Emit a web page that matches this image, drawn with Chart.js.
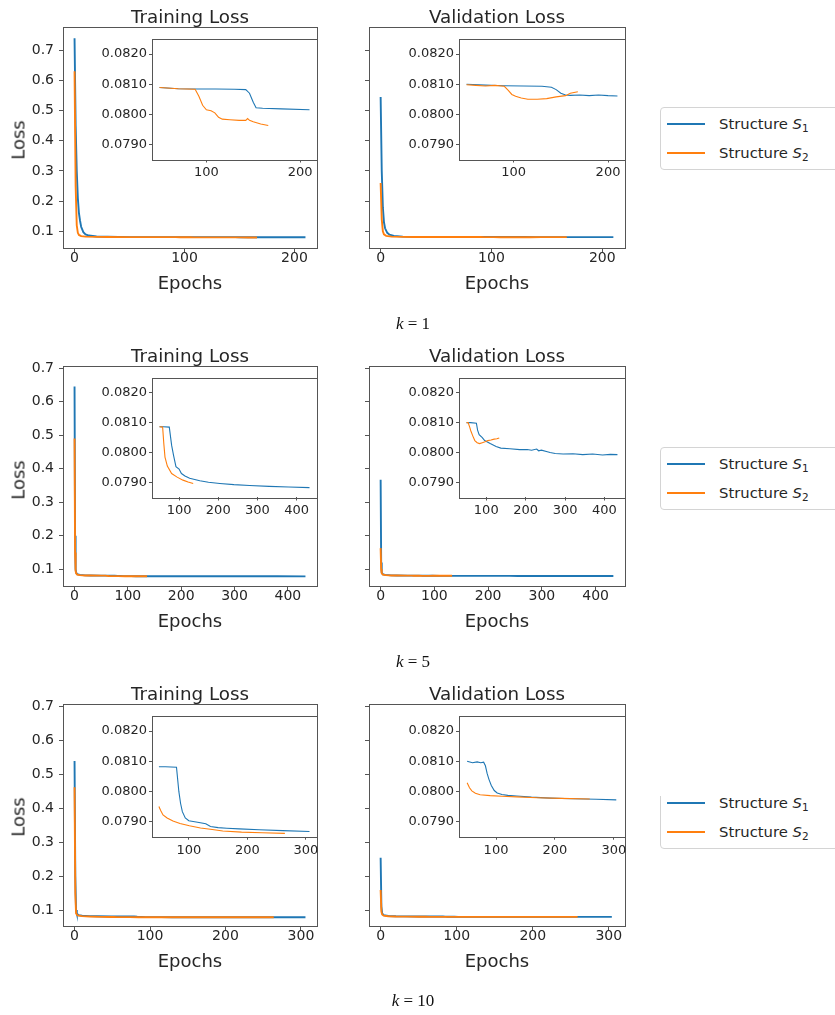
<!DOCTYPE html>
<html>
<head>
<meta charset="utf-8">
<script src="https://cdn.jsdelivr.net/npm/chart.js@4.4.0/dist/chart.umd.min.js"></script>
<style>
  html, body { margin: 0; padding: 0; width: 835px; height: 1015px; overflow: hidden; background: #fff; }
  body { position: relative; font-family: 'DejaVu Sans', sans-serif; color: #262626; }
  canvas { position: absolute; left: 0; top: 0; pointer-events: none; }
  .lbl { position: absolute; transform: translate(-50%, -50%); white-space: nowrap; }
  .title { font-size: 18.3px; }
  .axlabel { font-size: 18px; }
  .ylab { transform: translate(-50%, -50%) rotate(-90deg); }
  .klab { font-family: 'Liberation Serif', serif; font-size: 17px; color: #111; }
  .clip { position: absolute; overflow: hidden; }
  .legend { position: absolute; left: 0; width: 200px; height: 61px; background: #fff; border: 1px solid #d4d4d4; border-radius: 4px; font-size: 14.8px; }
  .legend .item { position: absolute; left: 0; height: 20px; width: 200px; }
  .legend .sw { position: absolute; left: 6px; top: 9px; width: 38px; height: 2px; }
  .legend .tx { position: absolute; left: 58px; top: 0; line-height: 20px; }
  .legend sub { font-size: 10.5px; vertical-align: -3px; font-style: normal; }
</style>
</head>
<body>
<script>
// ---- data (epoch, loss) ----
// k = 1
const k1TrainS1Epochs = [0, 1, 2, 3, 4, 5, 6, 8, 10, 13, 20, 30, 50, 70, 90, 110, 130, 142, 146, 150, 153, 160, 180, 210];
const k1TrainS1Loss = [0.74, 0.45, 0.30, 0.21, 0.16, 0.135, 0.115, 0.097, 0.090, 0.086, 0.083, 0.0818, 0.08089, 0.08085, 0.08084, 0.08084, 0.08083, 0.08082, 0.08070, 0.08040, 0.08022, 0.08020, 0.08018, 0.08015];
const k1TrainS2Epochs = [0, 1, 2, 3, 4, 6, 10, 20, 30, 50, 70, 88, 92, 96, 100, 105, 109, 113, 117, 125, 135, 142, 144, 146, 150, 158, 166];
const k1TrainS2Loss = [0.63, 0.25, 0.12, 0.095, 0.088, 0.084, 0.0825, 0.0815, 0.0811, 0.08089, 0.08085, 0.08083, 0.08060, 0.08030, 0.08015, 0.08012, 0.08005, 0.07990, 0.07984, 0.07982, 0.07980, 0.07980, 0.07986, 0.07980, 0.07975, 0.07968, 0.07963];
const k1ValS1Epochs = [0, 1, 2, 3, 4, 6, 8, 12, 20, 30, 50, 70, 90, 110, 130, 140, 145, 150, 155, 160, 170, 180, 190, 200, 210];
const k1ValS1Loss = [0.545, 0.30, 0.18, 0.13, 0.11, 0.095, 0.089, 0.085, 0.0825, 0.0815, 0.0810, 0.08097, 0.08095, 0.08094, 0.08093, 0.08090, 0.08082, 0.08070, 0.08064, 0.08063, 0.08064, 0.08062, 0.08064, 0.08062, 0.08061];
const k1ValS2Epochs = [0, 1, 2, 3, 5, 10, 20, 30, 50, 60, 70, 80, 90, 94, 98, 102, 108, 115, 125, 135, 145, 155, 160, 168];
const k1ValS2Loss = [0.26, 0.14, 0.10, 0.09, 0.085, 0.0825, 0.0815, 0.0812, 0.08098, 0.08096, 0.08094, 0.08096, 0.08093, 0.08080, 0.08066, 0.08060, 0.08054, 0.08050, 0.08050, 0.08052, 0.08058, 0.08062, 0.08070, 0.08075];
// k = 5
const k5TrainS1Epochs = [0, 1, 2, 3, 5, 10, 20, 30, 50, 60, 75, 81, 86, 92, 100, 106, 115, 127, 140, 153, 175, 204, 240, 280, 330, 380, 433];
const k5TrainS1Loss = [0.645, 0.20, 0.10, 0.09, 0.085, 0.083, 0.0818, 0.0813, 0.08086, 0.08086, 0.08085, 0.08024, 0.07990, 0.07953, 0.07945, 0.07930, 0.07922, 0.07914, 0.07910, 0.07906, 0.07901, 0.07897, 0.07893, 0.07890, 0.07887, 0.07885, 0.07883];
const k5TrainS2Epochs = [0, 1, 2, 3, 5, 10, 20, 30, 50, 58, 61, 64, 70, 81, 95, 110, 123, 136];
const k5TrainS2Loss = [0.49, 0.15, 0.095, 0.088, 0.084, 0.0825, 0.0815, 0.0811, 0.08086, 0.08085, 0.08030, 0.07985, 0.07955, 0.07930, 0.07918, 0.07908, 0.07902, 0.07897];
const k5ValS1Epochs = [0, 1, 2, 4, 8, 20, 30, 50, 60, 75, 78, 82, 90, 96, 110, 125, 137, 160, 185, 204, 215, 228, 233, 240, 255, 262, 275, 295, 320, 345, 370, 395, 415, 433];
const k5ValS1Loss = [0.367, 0.12, 0.09, 0.085, 0.083, 0.0818, 0.0814, 0.0810, 0.0810, 0.08098, 0.08075, 0.08060, 0.08050, 0.08040, 0.08030, 0.08020, 0.08015, 0.08013, 0.08010, 0.08010, 0.08008, 0.08012, 0.08006, 0.08008, 0.08003, 0.08000, 0.07997, 0.07995, 0.07996, 0.07993, 0.07995, 0.07992, 0.07994, 0.07993];
const k5ValS2Epochs = [0, 1, 2, 4, 10, 20, 30, 50, 54, 58, 61, 66, 71, 77, 83, 90, 97, 104, 112, 120, 127, 133];
const k5ValS2Loss = [0.163, 0.10, 0.088, 0.084, 0.0825, 0.0815, 0.0812, 0.0810, 0.0810, 0.08085, 0.08072, 0.08055, 0.08040, 0.08033, 0.08030, 0.08033, 0.08036, 0.08040, 0.08042, 0.08045, 0.08046, 0.08049];
// k = 10
const k10TrainS1Epochs = [0, 1, 2, 3, 5, 10, 20, 30, 49, 60, 79, 83, 86, 89, 94, 100, 115, 129, 137, 150, 165, 186, 220, 260, 306];
const k10TrainS1Loss = [0.538, 0.20, 0.10, 0.09, 0.085, 0.083, 0.082, 0.0815, 0.08082, 0.08082, 0.08080, 0.08000, 0.07960, 0.07933, 0.07912, 0.07903, 0.07898, 0.07893, 0.07884, 0.07880, 0.07878, 0.07876, 0.07873, 0.07870, 0.07867];
const k10TrainS2Epochs = [0, 1, 2, 4, 10, 20, 35, 49, 52, 56, 63, 73, 85, 101, 120, 140, 158, 190, 225, 264];
const k10TrainS2Loss = [0.461, 0.15, 0.09, 0.084, 0.082, 0.0808, 0.0799, 0.0795, 0.07937, 0.07922, 0.07912, 0.07902, 0.07894, 0.07886, 0.07879, 0.07874, 0.07869, 0.07865, 0.07863, 0.07861];
const k10ValS1Epochs = [0, 1, 2, 4, 10, 20, 30, 51, 60, 68, 74, 79, 82, 85, 88, 92, 97, 102, 110, 120, 135, 160, 192, 230, 270, 304];
const k10ValS1Loss = [0.254, 0.11, 0.09, 0.085, 0.0825, 0.0815, 0.0812, 0.0810, 0.08095, 0.08098, 0.08095, 0.08097, 0.08085, 0.08059, 0.08040, 0.08020, 0.08003, 0.07995, 0.07990, 0.07987, 0.07985, 0.07981, 0.07978, 0.07976, 0.07974, 0.07972];
const k10ValS2Epochs = [0, 1, 2, 4, 10, 20, 35, 51, 55, 59, 65, 73, 90, 110, 135, 170, 210, 259];
const k10ValS2Loss = [0.159, 0.095, 0.087, 0.0835, 0.0815, 0.0808, 0.0805, 0.08029, 0.08012, 0.08002, 0.07994, 0.07989, 0.07986, 0.07984, 0.07982, 0.07979, 0.07977, 0.07975];

// tick labels
const mainYTicks = [0.1, 0.2, 0.3, 0.4, 0.5, 0.6, 0.7];
const insetYTicks = [0.0790, 0.0800, 0.0810, 0.0820];
const k1XTicks = [0, 100, 200];
const k5XTicks = [0, 100, 200, 300, 400];
const k10XTicks = [0, 100, 200, 300];
const k1InsetXTicks = [100, 200];
const k5InsetXTicks = [100, 200, 300, 400];
const k10InsetXTicks = [100, 200, 300];

const panelTitles = ['Training Loss', 'Validation Loss'];
const seriesNames = ['Structure', 'Structure'];
const kValues = ['1', '5', '10'];

// ---- layout ----
const PAGE_W = 835, PAGE_H = 1015;
const blue = '#1f77b4', orange = '#ff7f0e', ink = '#262626', spine = '#555555';
const cols = [{ left: 63, right: 317, insetLeft: 152, cx: 190 }, { left: 369, right: 625, insetLeft: 459, cx: 497 }];

const rows = [
  { top: 27, bottom: 248, insetTop: 39, insetBottom: 159.5, yRange: [0.0447, 0.777], xRange: [-10.5, 220.5], insetX: [42, 218],
    xTicks: k1XTicks, insetXTicks: k1InsetXTicks, titleY: 16, epochsY: 282, lossY: 140, kY: 324, legendTop: 107,
    data: [[[k1TrainS1Epochs, k1TrainS1Loss], [k1TrainS2Epochs, k1TrainS2Loss]], [[k1ValS1Epochs, k1ValS1Loss], [k1ValS2Epochs, k1ValS2Loss]]] },
  { top: 366, bottom: 586, insetTop: 377.7, insetBottom: 497.5, yRange: [0.05, 0.706], xRange: [-21.65, 454.65], insetX: [30.85, 452.15],
    xTicks: k5XTicks, insetXTicks: k5InsetXTicks, titleY: 355, epochsY: 620, lossY: 480, kY: 662, legendTop: 447,
    data: [[[k5TrainS1Epochs, k5TrainS1Loss], [k5TrainS2Epochs, k5TrainS2Loss]], [[k5ValS1Epochs, k5ValS1Loss], [k5ValS2Epochs, k5ValS2Loss]]] },
  { top: 704, bottom: 926, insetTop: 716, insetBottom: 836.7, yRange: [0.053, 0.706], xRange: [-15.3, 321.3], insetX: [37.2, 318.8],
    xTicks: k10XTicks, insetXTicks: k10InsetXTicks, titleY: 693, epochsY: 960, lossY: 817, kY: 1001, legendTop: 786, legendClip: 796,
    data: [[[k10TrainS1Epochs, k10TrainS1Loss], [k10TrainS2Epochs, k10TrainS2Loss]], [[k10ValS1Epochs, k10ValS1Loss], [k10ValS2Epochs, k10ValS2Loss]]] }
];

function points(epochs, loss, from) {
  return epochs.map((x, i) => ({ x: x, y: loss[i] })).filter(p => p.x >= from);
}

const frameBox = {
  id: 'frameBox',
  beforeDraw(chart) {
    const a = chart.chartArea, c = chart.ctx;
    c.save();
    c.fillStyle = '#fff';
    c.fillRect(a.left, a.top, a.right - a.left, a.bottom - a.top);
    c.restore();
  },
  afterDraw(chart) {
    const a = chart.chartArea, c = chart.ctx;
    c.save();
    c.strokeStyle = spine;
    c.lineWidth = 1;
    c.strokeRect(Math.round(a.left) + 0.5, Math.round(a.top) + 0.5, Math.round(a.right - a.left), Math.round(a.bottom - a.top));
    c.restore();
  }
};

function makeAxes(o) {
  const cv = document.createElement('canvas');
  cv.width = PAGE_W;
  cv.height = PAGE_H;
  document.body.appendChild(cv);
  const font = { family: 'DejaVu Sans', size: o.fontSize, lineHeight: 1 };
  new Chart(cv, {
    type: 'line',
    data: {
      datasets: o.series.map((s, i) => ({
        data: s.points, borderColor: s.color, borderWidth: o.lineW,
        pointRadius: 0, tension: 0, fill: false, order: o.series.length - i
      }))
    },
    options: {
      responsive: false,
      animation: false,
      events: [],
      layout: { padding: { left: o.box.left - o.yw, top: o.box.top, right: PAGE_W - o.box.right, bottom: PAGE_H - o.box.bottom - o.xh } },
      plugins: { legend: { display: false }, tooltip: { enabled: false } },
      scales: {
        x: {
          type: 'linear', min: o.xRange[0], max: o.xRange[1],
          afterFit: s => { s.height = o.xh; },
          afterBuildTicks: s => { s.ticks = o.xTicks.map(v => ({ value: v })); },
          grid: { drawOnChartArea: false, tickLength: o.tickLen, color: spine },
          border: { display: false },
          ticks: { autoSkip: false, maxRotation: 0, padding: o.xPad, color: ink, font: font, callback: v => String(v) }
        },
        y: {
          type: 'linear', min: o.yRange[0], max: o.yRange[1],
          afterFit: s => { s.width = o.yw; },
          afterBuildTicks: s => { s.ticks = o.yTicks.map(v => ({ value: v })); },
          grid: { drawOnChartArea: false, tickLength: o.tickLen, color: spine },
          border: { display: false },
          ticks: { autoSkip: false, padding: o.yPad, color: ink, font: font, callback: o.showY ? (v => v.toFixed(o.yDigits)) : (() => '') }
        }
      }
    },
    plugins: [frameBox]
  });
}

function addText(html, x, y, cls) {
  const d = document.createElement('div');
  d.className = 'lbl ' + cls;
  d.innerHTML = html;
  d.style.left = x + 'px';
  d.style.top = y + 'px';
  document.body.appendChild(d);
}

function addLegend(top, clipTop) {
  const clip = document.createElement('div');
  clip.className = 'clip';
  const ct = clipTop || top - 2;
  clip.style.left = '660px';
  clip.style.top = ct + 'px';
  clip.style.width = (PAGE_W - 660) + 'px';
  clip.style.height = (top + 64 - ct) + 'px';
  const lg = document.createElement('div');
  lg.className = 'legend';
  lg.style.top = (top - ct) + 'px';
  [blue, orange].forEach((c, i) => {
    const it = document.createElement('div');
    it.className = 'item';
    it.style.top = (6 + i * 29) + 'px';
    it.innerHTML = '<div class="sw" style="background:' + c + '"></div><div class="tx">' + seriesNames[i] + ' <i>S</i><sub>' + (i + 1) + '</sub></div>';
    lg.appendChild(it);
  });
  clip.appendChild(lg);
  document.body.appendChild(clip);
}

rows.forEach((r, ri) => {
  cols.forEach((c, ci) => {
    const d = r.data[ci];
    // main axes
    makeAxes({
      box: { left: c.left, right: c.right, top: r.top, bottom: r.bottom },
      yw: 40, xh: 30, tickLen: 4, xPad: -1, yPad: 5, fontSize: 14, lineW: 1.9,
      xRange: r.xRange, yRange: r.yRange, xTicks: r.xTicks, yTicks: mainYTicks,
      showY: ci === 0, yDigits: 1,
      series: [{ points: points(d[0][0], d[0][1], 0), color: blue }, { points: points(d[1][0], d[1][1], 0), color: orange }]
    });
    // zoomed inset
    makeAxes({
      box: { left: c.insetLeft, right: c.right, top: r.insetTop, bottom: r.insetBottom },
      yw: 60, xh: 25, tickLen: 3, xPad: 4, yPad: 2, fontSize: 13, lineW: 1.1,
      xRange: r.insetX, yRange: [0.0785, 0.0825], xTicks: r.insetXTicks, yTicks: insetYTicks,
      showY: true, yDigits: 4,
      series: [{ points: points(d[0][0], d[0][1], 45), color: blue }, { points: points(d[1][0], d[1][1], 45), color: orange }]
    });
    addText(panelTitles[ci], c.cx, r.titleY, 'title');
    addText('Epochs', c.cx, r.epochsY, 'axlabel');
  });
  addText('Loss', 18, r.lossY, 'axlabel ylab');
  addText('<i>k</i> = ' + kValues[ri], 413, r.kY, 'klab');
  addLegend(r.legendTop, r.legendClip);
});
</script>
</body>
</html>
